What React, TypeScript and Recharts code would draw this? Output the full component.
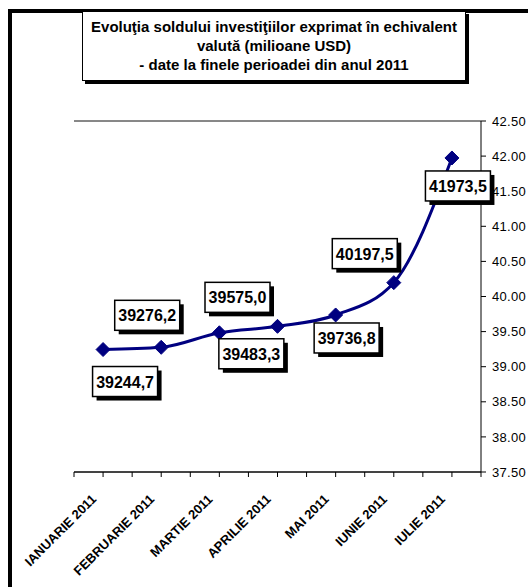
import React from 'react';
import { LineChart, Line, XAxis, YAxis, CartesianGrid, LabelList } from 'recharts';

const months = [
  'IANUARIE 2011',
  'FEBRUARIE 2011',
  'MARTIE 2011',
  'APRILIE 2011',
  'MAI 2011',
  'IUNIE 2011',
  'IULIE 2011',
];
const values = [39244.7, 39276.2, 39483.3, 39575.0, 39736.8, 40197.5, 41973.5];
const yTicks = [37500, 38000, 38500, 39000, 39500, 40000, 40500, 41000, 41500, 42000, 42500];
const titleLines = [
  'Evoluţia soldului investiţiilor exprimat în echivalent',
  'valută (milioane USD)',
  '- date la finele perioadei din anul 2011',
];

// label box offsets relative to point (layout only)
const labelOffsets: [number, number][] = [
  [22, 32],
  [-14, -32],
  [32, 21],
  [-40, -29],
  [11, 23],
  [-29, -29],
  [6, 28],
];

const data = months.map((m, i) => ({ month: m, value: values[i] }));

const FONT = "Arial, 'Liberation Sans', sans-serif";
const W = 528;
const H = 587;
const PLOT_LEFT = 74;
const PLOT_RIGHT = 481;
const PLOT_TOP = 121;
const PLOT_BOTTOM = 472;
const HALF_BAND = (PLOT_RIGHT - PLOT_LEFT) / (months.length * 2);

const XTick = (props: any) => {
  const { x, y, payload, index } = props;
  return (
    <g>
      <line x1={x} y1={y} x2={x} y2={y + 5} stroke="#000" strokeWidth={1} />
      <line x1={x - HALF_BAND} y1={y} x2={x - HALF_BAND} y2={y + 5} stroke="#000" strokeWidth={1} />
      {index === months.length - 1 && (
        <line x1={x + HALF_BAND} y1={y} x2={x + HALF_BAND} y2={y + 5} stroke="#000" strokeWidth={1} />
      )}
      <text
        x={x - 6}
        y={y + 28}
        transform={`rotate(-45 ${x - 6} ${y + 28})`}
        textAnchor="end"
        fontFamily={FONT}
        fontWeight="bold"
        fontSize={13}
        fill="#000"
      >
        {payload.value}
      </text>
    </g>
  );
};

const Diamond = (props: any) => {
  const { cx, cy } = props;
  if (cx == null || cy == null) return null;
  const r = 7;
  return (
    <polygon
      points={`${cx},${cy - r} ${cx + r},${cy} ${cx},${cy + r} ${cx - r},${cy}`}
      fill="#000080"
      stroke="#000080"
    />
  );
};

const ValueLabel = (props: any) => {
  const { x, y, value, index } = props;
  const [dx, dy] = labelOffsets[index] || [0, 0];
  const bw = 65;
  const bh = 30;
  const cx = x + dx;
  const cy = y + dy;
  const text = Number(value).toFixed(1).replace('.', ',');
  return (
    <g>
      <rect x={cx - bw / 2 + 4} y={cy - bh / 2 + 4} width={bw} height={bh} fill="#000" />
      <rect x={cx - bw / 2} y={cy - bh / 2} width={bw} height={bh} fill="#fff" stroke="#000" strokeWidth={1.5} />
      <text
        x={cx}
        y={cy + 6}
        textAnchor="middle"
        fontFamily={FONT}
        fontWeight="bold"
        fontSize={16}
        fill="#000"
      >
        {text}
      </text>
    </g>
  );
};

export default function App() {
  return (
    <div
      style={{
        position: 'absolute',
        left: 0,
        top: 0,
        width: W,
        height: H,
        overflow: 'hidden',
        background: '#fff',
      }}
    >
      <div
        style={{
          position: 'absolute',
          left: 8,
          top: 9,
          width: 700,
          height: 700,
          borderLeft: '4px solid #000',
          borderTop: '4px solid #000',
          boxSizing: 'border-box',
        }}
      />
      <div style={{ position: 'absolute', left: 0, top: 0 }}>
        <LineChart
          width={W}
          height={H}
          data={data}
          margin={{ top: PLOT_TOP, right: 0, bottom: 0, left: PLOT_LEFT }}
        >
          <CartesianGrid horizontal vertical={false} stroke="#111" strokeWidth={1} />
          <XAxis
            dataKey="month"
            type="category"
            padding={{ left: HALF_BAND, right: HALF_BAND }}
            height={H - PLOT_BOTTOM}
            axisLine={{ stroke: '#000', strokeWidth: 1 }}
            tickLine={false}
            tickSize={0}
            tickMargin={0}
            interval={0}
            tick={<XTick />}
          />
          <YAxis
            yAxisId="left"
            orientation="left"
            width={0}
            domain={[0, 1]}
            tick={false}
            tickLine={false}
            axisLine={{ stroke: '#808080', strokeWidth: 2 }}
          />
          <YAxis
            yAxisId="right"
            orientation="right"
            width={W - PLOT_RIGHT}
            domain={[37500, 42500]}
            ticks={yTicks}
            interval={0}
            tickFormatter={(v: number) => (v / 1000).toFixed(2)}
            axisLine={{ stroke: '#000', strokeWidth: 1 }}
            tickLine={{ stroke: '#000', strokeWidth: 1 }}
            tickSize={5}
            tickMargin={6}
            tick={{ fontFamily: FONT, fontSize: 13, fill: '#000', letterSpacing: 0.3 }}
          />
          <Line
            yAxisId="right"
            type="monotone"
            dataKey="value"
            stroke="#000080"
            strokeWidth={3}
            dot={<Diamond />}
            activeDot={false}
            isAnimationActive={false}
          >
            <LabelList dataKey="value" content={<ValueLabel />} />
          </Line>
        </LineChart>
      </div>
      <div
        style={{
          position: 'absolute',
          left: 82,
          top: 11,
          width: 384,
          height: 70,
          boxSizing: 'border-box',
          border: '1px solid #000',
          boxShadow: '3px 3px 0 #000',
          background: '#fff',
          fontFamily: FONT,
          fontWeight: 'bold',
          fontSize: 15,
          lineHeight: '19px',
          textAlign: 'center',
          paddingTop: 5,
          color: '#000',
        }}
      >
        {titleLines.map((t, i) => (
          <div key={i}>{t}</div>
        ))}
      </div>
    </div>
  );
}
